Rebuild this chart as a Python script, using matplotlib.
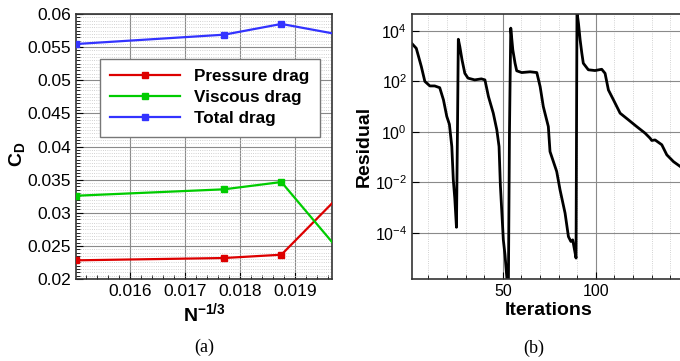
import matplotlib
matplotlib.use('Agg')
import matplotlib.pyplot as plt
import numpy as np
from matplotlib.ticker import MultipleLocator, FixedLocator, LogFormatterMathtext, NullLocator

plt.rcParams['font.family'] = ['Liberation Sans', 'DejaVu Sans']
plt.rcParams['mathtext.fontset'] = 'custom'
plt.rcParams['mathtext.rm'] = 'Liberation Sans'
plt.rcParams['mathtext.bf'] = 'Liberation Sans:bold'
plt.rcParams['mathtext.it'] = 'Liberation Sans:italic'

# grid convergence: drag coefficient vs N^-1/3
h = [0.01502, 0.01771, 0.01875, 0.0200]
pressure = [0.02282, 0.02317, 0.02367, 0.03421]
viscous = [0.03257, 0.03354, 0.03464, 0.02233]
total = [0.05547, 0.05688, 0.05850, 0.05659]

# solver residual history (log10 of residual)
iters = [1, 3.5, 6.2, 8.1, 10.8, 13.4, 16.1, 18.1, 19.9, 21.3, 22.6, 23.4, 24.2, 25.1,
         25.7, 26.1, 26.9, 28.1, 29.6, 31.3, 34.9, 38.5, 40.4, 42.3, 44.9, 46.8, 48.0,
         48.7, 50.3, 51.2, 52.2, 53.0, 53.6, 54.3, 55.4, 56.6, 57.5, 60.2, 64.7, 68.3,
         70.1, 71.8, 74.5, 75.4, 79.0, 80.8, 83.5, 85.3, 86.6, 87.6, 88.9, 89.4, 89.7,
         89.9, 90.7, 91.6, 92.5, 93.3, 96.0, 99.6, 103.2, 105.0, 106.8, 109.5, 113.1,
         117.5, 122.0, 126.5, 129.2, 130.1, 131.9, 135.5, 138.2, 141.8, 145.4]
log_res = [3.51, 3.31, 2.59, 2.00, 1.82, 1.82, 1.75, 1.27, 0.61, 0.30, -0.58, -1.90, -2.63, -3.78,
           0.50, 3.67, 3.38, 2.85, 2.32, 2.13, 2.06, 2.10, 2.06, 1.40, 0.74, 0.08, -0.58,
           -2.10, -4.28, -4.87, -5.79, -6.30, 0.00, 4.11, 3.25, 2.72, 2.42, 2.35, 2.38, 2.35,
           1.79, 1.00, 0.21, -0.78, -1.57, -2.30, -3.22, -4.15, -4.34, -4.28, -4.80, -5.00, 1.00,
           4.75, 4.30, 3.64, 3.12, 2.72, 2.46, 2.43, 2.48, 2.32, 1.66, 1.27, 0.74,
           0.48, 0.21, -0.05, -0.25, -0.34, -0.32, -0.51, -0.91, -1.18, -1.37]

fig = plt.figure(figsize=(6.8, 3.61), dpi=100)
ax1 = fig.add_axes([0.1118, 0.2271, 0.3765, 0.7341])
ax2 = fig.add_axes([0.6059, 0.2271, 0.4015, 0.7341])

# (a) drag coefficients
ax1.plot(h, pressure, color='#dd0000', lw=1.6, marker='s', ms=5, label='Pressure drag', zorder=3)
ax1.plot(h, viscous, color='#00cc00', lw=1.6, marker='s', ms=5, label='Viscous drag', zorder=3)
ax1.plot(h, total, color='#3333ff', lw=1.6, marker='s', ms=5, label='Total drag', zorder=3)
ax1.set_xlim(0.01502, 0.01967)
ax1.set_ylim(0.02, 0.06)
ax1.xaxis.set_minor_locator(MultipleLocator(0.0002))
ax1.yaxis.set_minor_locator(MultipleLocator(0.0005))
ax1.set_xticks([0.016, 0.017, 0.018, 0.019])
ax1.set_xticklabels(['0.016', '0.017', '0.018', '0.019'])
ax1.set_yticks([0.02, 0.025, 0.03, 0.035, 0.04, 0.045, 0.05, 0.055, 0.06])
ax1.set_yticklabels(['0.02', '0.025', '0.03', '0.035', '0.04', '0.045', '0.05', '0.055', '0.06'])
ax1.grid(True, which='major', color='#8a8a8a', lw=0.8, ls='-')
ax1.grid(True, which='minor', axis='y', color='#c4c4c4', lw=0.6, ls=':')
ax1.set_axisbelow(True)
ax1.tick_params(which='both', direction='in', labelsize=12.5, top=False, right=False)
ax1.tick_params(which='major', length=5)
ax1.tick_params(which='minor', length=3)
ax1.set_xlabel(r'$\mathbf{N}^{\mathbf{-1/3}}$', fontsize=14, labelpad=2)
ax1.set_ylabel(r'$\mathbf{C}_{\mathbf{D}}$', fontsize=14)
ax1.yaxis.set_label_coords(-0.19, 0.47)
leg = ax1.legend(loc='upper left', bbox_to_anchor=(0.094, 0.83), borderaxespad=0,
                 prop={'weight': 'bold', 'size': 12.3}, handlelength=4.1,
                 handletextpad=0.8, labelspacing=0.35, borderpad=0.6,
                 fancybox=False, framealpha=1, edgecolor='#777777')
leg.get_frame().set_linewidth(1.0)

# (b) residual history
ax2.plot(iters, 10 ** np.array(log_res), color='black', lw=2.0)
ax2.set_yscale('log')
ax2.set_xlim(1.2, 148)
ax2.set_ylim(10 ** -5.83, 10 ** 4.67)
ax2.xaxis.set_major_locator(MultipleLocator(50))
ax2.xaxis.set_minor_locator(MultipleLocator(10))
ax2.yaxis.set_major_locator(FixedLocator([1e-4, 1e-2, 1e0, 1e2, 1e4]))
ax2.yaxis.set_major_formatter(LogFormatterMathtext())
ax2.yaxis.set_minor_locator(NullLocator())
ax2.grid(True, which='major', color='#8a8a8a', lw=0.8, ls='-')
ax2.grid(True, which='minor', axis='x', color='#c4c4c4', lw=0.6, ls=':')
ax2.set_axisbelow(True)
ax2.tick_params(which='both', direction='in', labelsize=11.5, top=False, right=False)
ax2.tick_params(which='major', length=5)
ax2.tick_params(which='minor', length=3)
ax2.set_xlabel('Iterations', fontsize=14, fontweight='bold', labelpad=2)
ax2.set_ylabel('Residual', fontsize=14, fontweight='bold')
ax2.yaxis.set_label_coords(-0.143, 0.5)

for ax in (ax1, ax2):
    for sp in ax.spines.values():
        sp.set_linewidth(1.2)
        sp.set_color('#333333')

fig.text(0.301, 0.039, '(a)', fontsize=13, family='Liberation Serif', ha='center', va='center')
fig.text(0.785, 0.036, '(b)', fontsize=13, family='Liberation Serif', ha='center', va='center')

fig.savefig('out.png', dpi=100)
